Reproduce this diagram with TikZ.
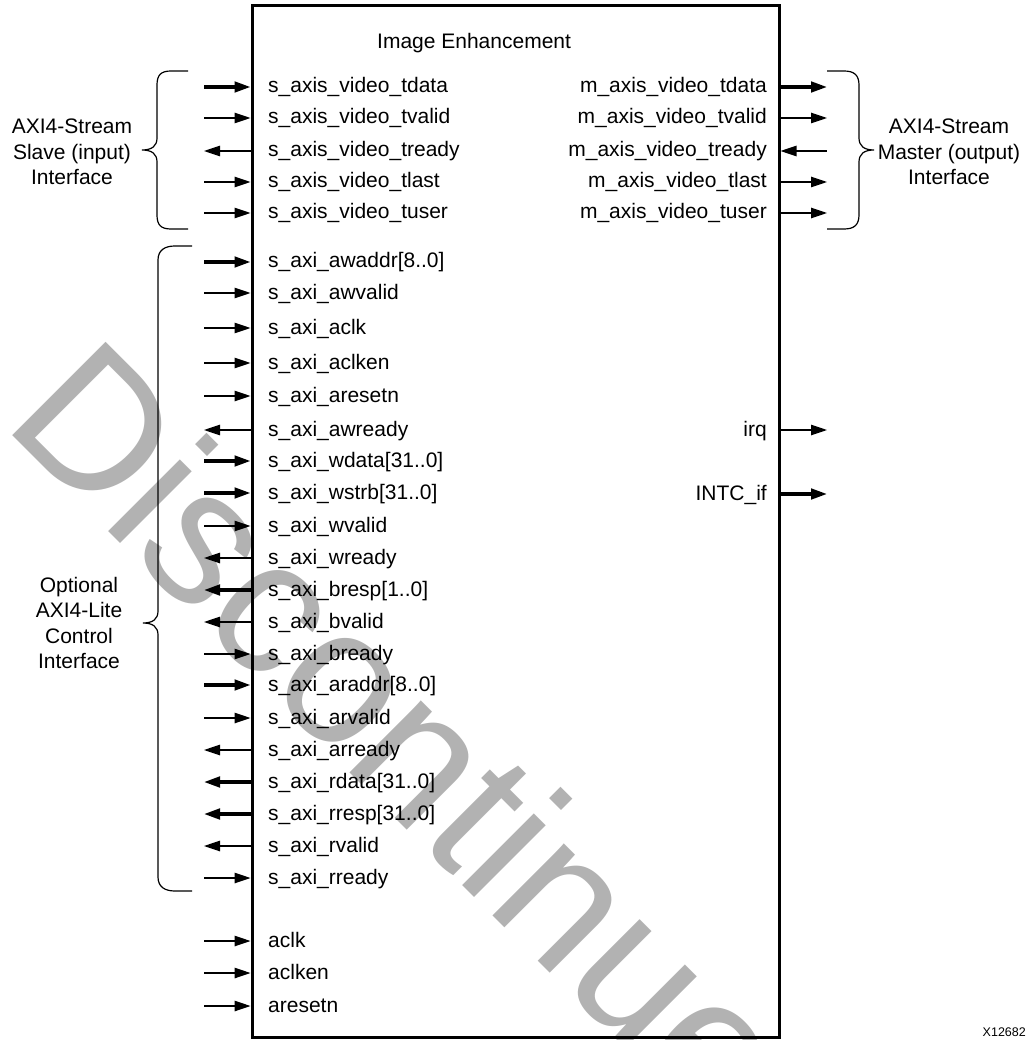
\documentclass[tikz,border=0pt]{standalone}
\usepackage{fontspec}
\setmainfont{Liberation Sans}
\usetikzlibrary{arrows.meta}
\tikzset{
  lbl/.style={font=\fontsize{21}{25.5}\selectfont, inner sep=0pt},
  sig/.style={line width=1.2pt},
  bus/.style={line width=3.2pt},
  fwd/.style={-{Triangle[length=16pt 0 0, width=10.5pt 0 0]}},
  bwd/.style={{Triangle[length=16pt 0 0, width=10.5pt 0 0]}-},
  brace/.style={line width=1.2pt},
  watermark/.style={rotate=-45, anchor=base west, inner sep=0pt, text=black!30,
    font=\fontsize{192}{192}\selectfont}
}
\begin{document}
\begin{tikzpicture}[x=1pt, y=-1pt]
\useasboundingbox (0,0) rectangle (1031,1040);
\clip (0,0) rectangle (1031,1040);
% watermark
\node[watermark] (wm) at (1,424) {Discontinued};
% main block
\node[draw, line width=3pt, minimum width=527pt, minimum height=1031pt, inner sep=0pt] (box) at (515.5,521.5) {};
\node[lbl, anchor=base west] (title) at (377,48.5) {Image Enhancement};
% left side signals
\foreach \y/\t/\w/\d [count=\i] in {
  87/{s\_axis\_video\_tdata}/bus/fwd,
  118/{s\_axis\_video\_tvalid}/sig/fwd,
  151/{s\_axis\_video\_tready}/sig/bwd,
  182/{s\_axis\_video\_tlast}/sig/fwd,
  213/{s\_axis\_video\_tuser}/sig/fwd,
  262/{s\_axi\_awaddr[8..0]}/bus/fwd,
  293/{s\_axi\_awvalid}/sig/fwd,
  328/{s\_axi\_aclk}/sig/fwd,
  363/{s\_axi\_aclken}/sig/fwd,
  396/{s\_axi\_aresetn}/sig/fwd,
  430/{s\_axi\_awready}/sig/bwd,
  461/{s\_axi\_wdata[31..0]}/bus/fwd,
  493/{s\_axi\_wstrb[31..0]}/bus/fwd,
  526/{s\_axi\_wvalid}/sig/fwd,
  558/{s\_axi\_wready}/sig/bwd,
  590/{s\_axi\_bresp[1..0]}/bus/bwd,
  622/{s\_axi\_bvalid}/sig/bwd,
  654/{s\_axi\_bready}/sig/fwd,
  685/{s\_axi\_araddr[8..0]}/bus/fwd,
  718/{s\_axi\_arvalid}/sig/fwd,
  750/{s\_axi\_arready}/sig/bwd,
  782/{s\_axi\_rdata[31..0]}/bus/bwd,
  814/{s\_axi\_rresp[31..0]}/bus/bwd,
  846/{s\_axi\_rvalid}/sig/bwd,
  878/{s\_axi\_rready}/sig/fwd,
  941/{aclk}/sig/fwd,
  973/{aclken}/sig/fwd,
  1006/{aresetn}/sig/fwd}
{
  \coordinate (la\i) at (204,\y);
  \node[lbl, anchor=base west] (lt\i) at (268,\y+6) {\t};
  \draw[\w,\d] (la\i) -- (la\i -| box.west);
}
% right side signals
\foreach \y/\t/\w/\d [count=\i] in {
  87/{m\_axis\_video\_tdata}/bus/fwd,
  118/{m\_axis\_video\_tvalid}/sig/fwd,
  151/{m\_axis\_video\_tready}/sig/bwd,
  182/{m\_axis\_video\_tlast}/sig/fwd,
  213/{m\_axis\_video\_tuser}/sig/fwd,
  430/{irq}/sig/fwd,
  494/{INTC\_if}/bus/fwd}
{
  \coordinate (ra\i) at (827,\y);
  \node[lbl, anchor=base east] (rt\i) at (767,\y+6) {\t};
  \draw[\w,\d] (ra\i -| box.east) -- (ra\i);
}
% braces
\draw[brace] (188,71) -- (171,71) .. controls (161,71) and (157,75) .. (157,85)
  -- (157,138) .. controls (157,146) and (152,150) .. (142,150)
  .. controls (152,150) and (157,154) .. (157,162)
  -- (157,215) .. controls (157,225) and (161,229) .. (171,229) -- (188,229);
\draw[brace] (192,246) -- (175,246) .. controls (165,246) and (158,250) .. (158,260)
  -- (158,611) .. controls (158,619) and (153,623) .. (143,623)
  .. controls (153,623) and (158,627) .. (158,635)
  -- (158,877) .. controls (158,887) and (165,891) .. (175,891) -- (192,891);
\draw[brace] (827,71) -- (844,71) .. controls (854,71) and (859,75) .. (859,85)
  -- (859,138) .. controls (859,146) and (864,150) .. (874,150)
  .. controls (864,150) and (859,154) .. (859,162)
  -- (859,215) .. controls (859,225) and (854,229) .. (844,229) -- (827,229);
% brace labels
\node[lbl, align=center] (slave) at (72,152) {AXI4-Stream\\Slave (input)\\Interface};
\node[lbl, align=center] (master) at (949,152) {AXI4-Stream\\Master (output)\\Interface};
\node[lbl, align=center] (lite) at (79,623) {Optional\\AXI4-Lite\\Control\\Interface};
% figure id
\node[font=\fontsize{12.5}{15}\selectfont, anchor=base east, inner sep=0pt] (figid) at (1026,1036) {X12682};
\end{tikzpicture}
\end{document}
